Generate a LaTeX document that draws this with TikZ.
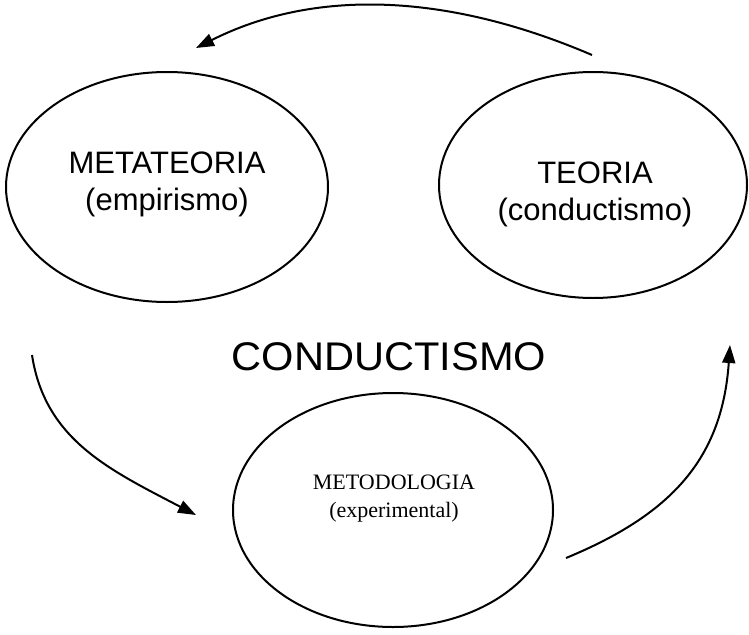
\documentclass[tikz,border=0pt]{standalone}
\usepackage{fontspec}
\usepackage{tikz}
\usetikzlibrary{arrows.meta,shapes.geometric}

\newfontfamily\fuentesans{Liberation Sans}
\newfontfamily\fuenteserif{Liberation Serif}

\begin{document}
\begin{tikzpicture}[x=1pt,y=-1pt,->,>={Triangle[length=18pt,width=13pt]},line width=2pt]
    \tikzstyle{globo}=[ellipse,draw,line width=2pt,inner sep=0pt]
    \tikzstyle{rotulo}=[align=center,inner sep=0pt,font=\fuentesans\fontsize{31}{37}\selectfont]
    \useasboundingbox (0,0) rectangle (749,634);

    \node[globo,minimum width=322pt,minimum height=230pt] (meta) at (167,187) {};
    \node[globo,minimum width=308pt,minimum height=226pt] (teoria) at (593,185) {};
    \node[globo,minimum width=320pt,minimum height=234pt] (metodo) at (393,510) {};

    \node[rotulo] (metatxt) at (167,184) {METATEORIA\\(empirismo)};
    \node[rotulo] (teoriatxt) at (595,194) {TEORIA\\(conductismo)};
    \node[rotulo,font=\fuenteserif\fontsize{22}{28}\selectfont] (metodotxt) at (394,499) {METODOLOGIA\\(experimental)};
    \node[inner sep=0pt,font=\fuentesans\fontsize{40}{48}\selectfont] (titulo) at (389,357) {\scalebox{1.04}[1]{CONDUCTISMO}};

    \coordinate (t1) at (592,55);
    \coordinate (t2) at (196,48);
    \coordinate (l1) at (32,355);
    \coordinate (l2) at (196,515);
    \coordinate (r1) at (566,558);
    \coordinate (r2) at (730,345);

    \draw (t1) .. controls (445,-8) and (313,-11) .. (t2);
    \draw (l1) .. controls (45,440) and (110,470) .. (l2);
    \draw (r1) .. controls (670,515) and (722,460) .. (r2);
\end{tikzpicture}
\end{document}
